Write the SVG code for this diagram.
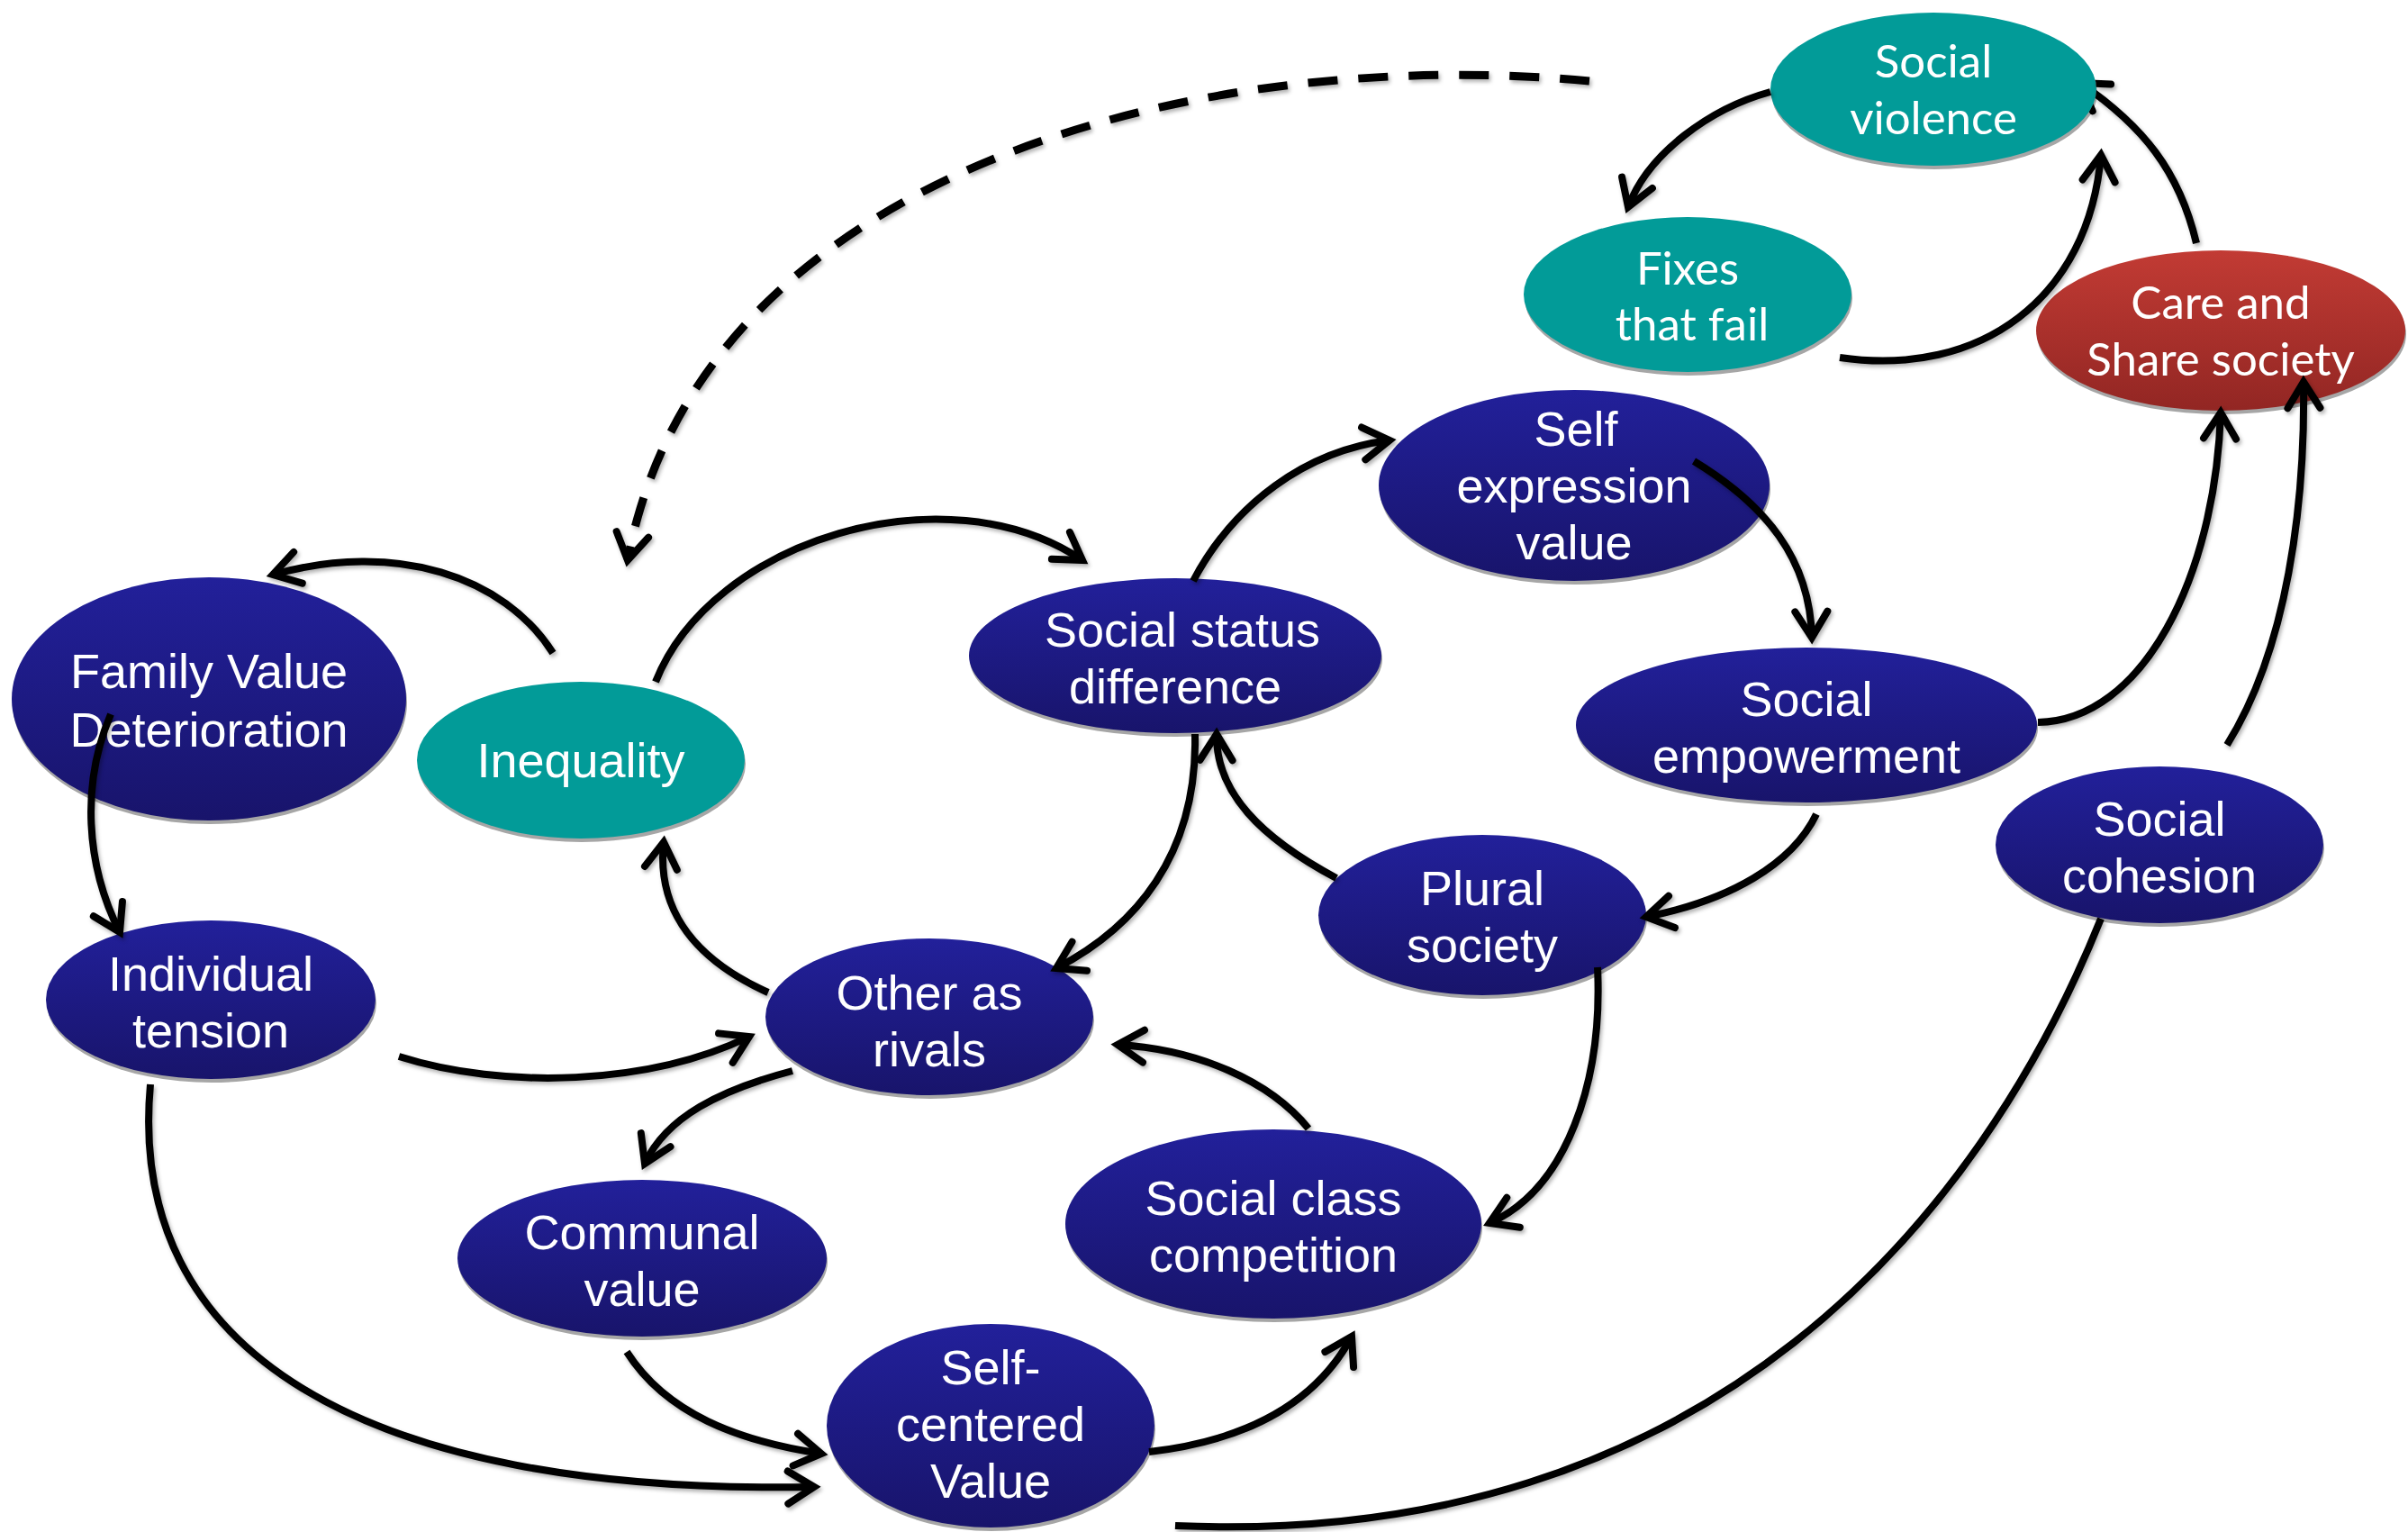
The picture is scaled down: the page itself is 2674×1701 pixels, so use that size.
<svg xmlns="http://www.w3.org/2000/svg" width="2674" height="1701" viewBox="0 0 2674 1701">
<style>
.blue{fill:url(#gBlue)}
.teal{fill:#029b98}
.red{fill:url(#gRed)}
.sh{fill:#a6a6a6}
.t{font-family:"Liberation Sans",Arial,sans-serif;font-size:54px;fill:#fff;text-anchor:middle}
.tc{font-family:Lato,"Open Sans",sans-serif;font-size:51px;fill:#fff;text-anchor:middle}
.c{fill:none;stroke:#000;stroke-width:8;stroke-linecap:butt}
.a{marker-end:url(#ah)}
.d{stroke-width:9;stroke-dasharray:33 23}
</style>
<defs>
<linearGradient id="gBlue" x1="0" y1="0" x2="0" y2="1">
<stop offset="0" stop-color="#22209a"/>
<stop offset="1" stop-color="#18146b"/>
</linearGradient>
<linearGradient id="gRed" x1="0" y1="0" x2="0" y2="1">
<stop offset="0" stop-color="#c23b34"/>
<stop offset="1" stop-color="#922623"/>
</linearGradient>
<marker id="ah" viewBox="-40 -28 48 56" markerWidth="48" markerHeight="56" refX="0" refY="0" orient="auto" markerUnits="userSpaceOnUse">
<path d="M-29,-18 L0,0 L-29,18" fill="none" stroke="#000" stroke-width="8" stroke-linecap="round" stroke-linejoin="miter"/>
</marker>
<filter id="shd" x="-5%" y="-5%" width="110%" height="110%">
<feDropShadow dx="2" dy="3" stdDeviation="2" flood-color="#000" flood-opacity="0.3"/>
</filter>
<clipPath id="outSV">
<path clip-rule="evenodd" d="M0,0H2674V1701H0Z M1966,99 a181,85 0 1,0 362,0 a181,85 0 1,0 -362,0Z"/>
</clipPath>
</defs>

<g id="node-social-violence">
<ellipse class="sh" cx="2148" cy="103" rx="181" ry="85"/>
<ellipse class="teal" cx="2147" cy="99" rx="181" ry="85"/>
<text class="tc" x="2147" y="86">Social</text>
<text class="tc" x="2147" y="149">violence</text>
</g>
<g id="node-fixes-that-fail">
<ellipse class="sh" cx="1875" cy="331" rx="182" ry="86"/>
<ellipse class="teal" cx="1874" cy="327" rx="182" ry="86"/>
<text class="tc" x="1874" y="316">Fixes</text>
<text class="tc" x="1879" y="378">that fail</text>
</g>
<g id="node-care-and-share">
<ellipse class="sh" cx="2467" cy="371" rx="205" ry="89"/>
<ellipse class="red" cx="2466" cy="367" rx="205" ry="89"/>
<text class="tc" x="2466" y="354">Care and</text>
<text class="tc" x="2466" y="417">Share society</text>
</g>
<g id="node-self-expression">
<ellipse class="sh" cx="1749" cy="543" rx="217" ry="106"/>
<ellipse class="blue" cx="1748" cy="539" rx="217" ry="106"/>
<text class="t" x="1750" y="495">Self</text>
<text class="t" x="1748" y="558">expression</text>
<text class="t" x="1748" y="621">value</text>
</g>
<g id="node-social-status">
<ellipse class="sh" cx="1306" cy="732" rx="229" ry="86"/>
<ellipse class="blue" cx="1305" cy="728" rx="229" ry="86"/>
<text class="t" x="1313" y="718">Social status</text>
<text class="t" x="1305" y="781">difference</text>
</g>
<g id="node-social-empowerment">
<ellipse class="sh" cx="2007" cy="809" rx="256" ry="86"/>
<ellipse class="blue" cx="2006" cy="805" rx="256" ry="86"/>
<text class="t" x="2006" y="795">Social</text>
<text class="t" x="2006" y="858">empowerment</text>
</g>
<g id="node-family-value">
<ellipse class="sh" cx="233" cy="780" rx="219" ry="135"/>
<ellipse class="blue" cx="232" cy="776" rx="219" ry="135"/>
<text class="t" x="232" y="764">Family Value</text>
<text class="t" x="232" y="829">Deterioration</text>
</g>
<g id="node-inequality">
<ellipse class="sh" cx="646" cy="848" rx="182" ry="87"/>
<ellipse class="teal" cx="645" cy="844" rx="182" ry="87"/>
<text class="t" x="645" y="863">Inequality</text>
</g>
<g id="node-social-cohesion">
<ellipse class="sh" cx="2399" cy="942" rx="182" ry="87"/>
<ellipse class="blue" cx="2398" cy="938" rx="182" ry="87"/>
<text class="t" x="2398" y="928">Social</text>
<text class="t" x="2398" y="991">cohesion</text>
</g>
<g id="node-plural-society">
<ellipse class="sh" cx="1647" cy="1020" rx="182" ry="89"/>
<ellipse class="blue" cx="1646" cy="1016" rx="182" ry="89"/>
<text class="t" x="1646" y="1005">Plural</text>
<text class="t" x="1646" y="1068">society</text>
</g>
<g id="node-individual-tension">
<ellipse class="sh" cx="235" cy="1114" rx="183" ry="88"/>
<ellipse class="blue" cx="234" cy="1110" rx="183" ry="88"/>
<text class="t" x="234" y="1100">Individual</text>
<text class="t" x="234" y="1163">tension</text>
</g>
<g id="node-other-as-rivals">
<ellipse class="sh" cx="1033" cy="1133" rx="182" ry="87"/>
<ellipse class="blue" cx="1032" cy="1129" rx="182" ry="87"/>
<text class="t" x="1032" y="1121">Other as</text>
<text class="t" x="1032" y="1184">rivals</text>
</g>
<g id="node-communal-value">
<ellipse class="sh" cx="714" cy="1401" rx="205" ry="87"/>
<ellipse class="blue" cx="713" cy="1397" rx="205" ry="87"/>
<text class="t" x="713" y="1387">Communal</text>
<text class="t" x="713" y="1450">value</text>
</g>
<g id="node-social-class">
<ellipse class="sh" cx="1415" cy="1363" rx="231" ry="105"/>
<ellipse class="blue" cx="1414" cy="1359" rx="231" ry="105"/>
<text class="t" x="1414" y="1349">Social class</text>
<text class="t" x="1414" y="1412">competition</text>
</g>
<g id="node-self-centered">
<ellipse class="sh" cx="1101" cy="1587" rx="182" ry="113"/>
<ellipse class="blue" cx="1100" cy="1583" rx="182" ry="113"/>
<text class="t" x="1100" y="1537">Self-</text>
<text class="t" x="1100" y="1600">centered</text>
<text class="t" x="1100" y="1663">Value</text>
</g>

<g id="connectors" filter="url(#shd)">
<path class="c a d" d="M1765,90 C1350,50 780,180 697,622"/>
<path class="c a" d="M1966,102 C1900,120 1830,170 1808,230"/>
<path class="c a" d="M2043,397 C2200,420 2320,330 2333,172"/>
<path class="c a" clip-path="url(#outSV)" d="M2439,270 C2420,190 2380,140 2310,92"/>
<path class="c a" d="M2263,802 C2380,800 2460,640 2466,458"/>
<path class="c a" d="M2473,827 C2540,720 2560,560 2558,424"/>
<path class="c" d="M2333,1020 C2200,1350 1900,1720 1305,1694"/>
<path class="c a" d="M1881,512 C1960,560 2010,620 2012,708"/>
<path class="c a" d="M1325,645 C1370,560 1450,500 1543,489"/>
<path class="c a" d="M728,757 C790,600 1050,520 1202,622"/>
<path class="c a" d="M614,725 C560,640 440,600 303,638"/>
<path class="c a" d="M123,793 C90,870 95,960 133,1035"/>
<path class="c a" d="M443,1173 C560,1210 720,1205 832,1151"/>
<path class="c a" d="M167,1204 C140,1500 400,1660 904,1651"/>
<path class="c a" d="M853,1102 C760,1060 730,1000 737,935"/>
<path class="c a" d="M1327,815 C1330,950 1260,1030 1173,1075"/>
<path class="c a" d="M1484,975 C1400,930 1350,880 1351,815"/>
<path class="c a" d="M2017,904 C1990,960 1920,1000 1828,1018"/>
<path class="c a" d="M1774,1074 C1780,1200 1740,1320 1654,1358"/>
<path class="c a" d="M1453,1253 C1410,1200 1330,1165 1241,1160"/>
<path class="c a" d="M880,1189 C800,1210 740,1240 716,1292"/>
<path class="c a" d="M696,1501 C740,1570 820,1600 912,1614"/>
<path class="c a" d="M1276,1612 C1380,1600 1460,1560 1501,1484"/>
</g>
</svg>
